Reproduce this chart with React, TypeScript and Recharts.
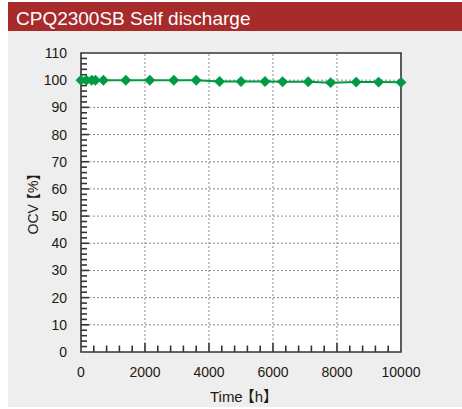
import React from 'react';
import { ComposedChart, Line, Scatter, XAxis, YAxis, ReferenceLine, ReferenceArea } from 'recharts';

const TITLE = 'CPQ2300SB Self discharge';
const X_LABEL_MAIN = 'Time';
const X_LABEL_UNIT = '【h】';
const Y_LABEL_MAIN = 'OCV';
const Y_LABEL_UNIT = '【%】';

const hours = [0, 168, 336, 450, 700, 1400, 2150, 2900, 3600, 4330, 5000, 5750, 6300, 7100, 7800, 8600, 9300, 10000];
const ocv = [100, 100, 100, 100, 100, 100, 100, 100, 100, 99.5, 99.5, 99.5, 99.4, 99.4, 99.1, 99.3, 99.3, 99.2];

const xMajorTicks = [0, 2000, 4000, 6000, 8000, 10000];
const yMajorTicks = [0, 10, 20, 30, 40, 50, 60, 70, 80, 90, 100, 110];
const X_MINOR_STEP = 400;
const Y_MINOR_STEP = 2;

const X_MAX = 10000;
const Y_MAX = 110;

const xTicks: number[] = [];
for (let v = X_MINOR_STEP; v < X_MAX; v += X_MINOR_STEP) xTicks.push(v);
const yTicks: number[] = [];
for (let v = Y_MINOR_STEP; v < Y_MAX; v += Y_MINOR_STEP) yTicks.push(v);

// x tick mark lengths expressed in y data units
const X_TICK_MAJOR = 3.3;
const X_TICK_MINOR = 2.4;

const data = hours.map((h, i) => ({ h, ocv: ocv[i] }));
const yTickData = yTicks.map((v) => ({ h: 0, tick: v, major: v % 10 === 0 }));

const FONT = '"Liberation Sans", Arial, "Noto Sans CJK JP", sans-serif';
const TEXT = '#231815';
const AXIS = '#3a3232';
const GREEN = '#009a44';

function XTick(props: any) {
  const x = Number(props.x);
  const y = Number(props.y);
  const v = Number(props.payload?.value);
  return (
    <text x={x} y={y + 25} textAnchor="middle" fontSize={14} fill={TEXT} fontFamily={FONT} stroke="none">
      {v}
    </text>
  );
}

function YTick(props: any) {
  const x = Number(props.x);
  const y = Number(props.y);
  const v = Number(props.payload?.value);
  return (
    <text x={x - 14} y={y + 5} textAnchor="end" fontSize={14} fill={TEXT} fontFamily={FONT} stroke="none">
      {v}
    </text>
  );
}

const YTickMark = (p: any) => {
  const cx = Number(p.cx);
  const cy = Number(p.cy);
  if (!isFinite(cx) || !isFinite(cy)) return <g />;
  const len = p.payload && p.payload.major ? 8 : 6;
  return <path d={`M${cx},${cy}H${cx + len}`} stroke={AXIS} strokeWidth={1.6} fill="none" />;
};

const Diamond = (props: any) => {
  const { cx, cy } = props;
  if (cx == null || cy == null) return null;
  const r = 5.2;
  return (
    <polygon
      points={`${cx},${cy - r} ${cx + r},${cy} ${cx},${cy + r} ${cx - r},${cy}`}
      fill={GREEN}
      stroke={GREEN}
      strokeWidth={0.5}
    />
  );
};

const YLabel = (props: any) => {
  const vb = props.viewBox || {};
  const cx = 25;
  const cy = vb.y + vb.height / 2 - 2;
  return (
    <text
      x={cx}
      y={cy}
      transform={`rotate(-90, ${cx}, ${cy})`}
      textAnchor="middle"
      dominantBaseline="central"
      fontSize={14}
      fill={TEXT}
      fontFamily={FONT}
    >
      <tspan>{Y_LABEL_MAIN}</tspan>
      <tspan dx={-3}>{Y_LABEL_UNIT}</tspan>
    </text>
  );
};

const XLabel = (props: any) => {
  const vb = props.viewBox || {};
  const cx = vb.x + vb.width / 2 + 3;
  return (
    <text x={cx} y={vb.y + 50} textAnchor="middle" fontSize={15} fill={TEXT} fontFamily={FONT}>
      <tspan>{X_LABEL_MAIN}</tspan>
      <tspan dx={-3}>{X_LABEL_UNIT}</tspan>
    </text>
  );
};

export default function App() {
  return (
    <div
      style={{
        position: 'absolute',
        left: 8,
        top: 2,
        width: 454,
        height: 405,
        background: '#eeeeee',
      }}
    >
      <div
        style={{
          height: 29,
          background: '#a72b2b',
          color: '#ffffff',
          fontFamily: FONT,
          fontSize: 19,
          lineHeight: '29px',
          paddingLeft: 8,
          boxSizing: 'border-box',
          overflow: 'hidden',
        }}
      >
        <span style={{ position: 'relative', top: 2 }}>{TITLE}</span>
      </div>
      <div style={{ position: 'relative', width: 454, height: 376 }}>
        <div
          style={{
            position: 'absolute',
            left: 73,
            top: 22,
            width: 320,
            height: 299,
            background: '#ffffff',
          }}
        />
        <div style={{ position: 'absolute', left: 0, top: 0 }}>
          <ComposedChart width={454} height={376} data={data} margin={{ top: 22, right: 61, bottom: 0, left: 0 }}>
            {yMajorTicks.slice(1, -1).map((v) => (
              <ReferenceLine key={'gy' + v} y={v} stroke="#8a8a8a" strokeDasharray="2 2" strokeWidth={1} />
            ))}
            {xMajorTicks.slice(1, -1).map((v) => (
              <ReferenceLine key={'gx' + v} x={v} stroke="#8a8a8a" strokeDasharray="2 2" strokeWidth={1} />
            ))}
            {xTicks.map((v) => (
              <ReferenceLine
                key={'tx' + v}
                segment={[
                  { x: v, y: 0 },
                  { x: v, y: v % 2000 === 0 ? X_TICK_MAJOR : X_TICK_MINOR },
                ]}
                stroke={AXIS}
                strokeWidth={1.6}
              />
            ))}
            <ReferenceArea x1={0} x2={X_MAX} y1={0} y2={Y_MAX} fill="none" stroke={AXIS} strokeWidth={1.6} />
            <XAxis
              type="number"
              dataKey="h"
              domain={[0, X_MAX]}
              ticks={xMajorTicks}
              interval={0}
              tick={XTick}
              tickLine={false}
              axisLine={false}
              tickSize={0}
              tickMargin={0}
              height={55}
              label={<XLabel />}
            />
            <YAxis
              type="number"
              domain={[0, Y_MAX]}
              ticks={yMajorTicks}
              interval={0}
              tick={YTick}
              tickLine={false}
              axisLine={false}
              tickSize={0}
              tickMargin={0}
              width={73}
              label={<YLabel />}
            />
            <Scatter
              data={yTickData}
              dataKey="tick"
              shape={YTickMark}
              legendType="none"
              isAnimationActive={false}
            />
            <Line
              type="linear"
              dataKey="ocv"
              stroke={GREEN}
              strokeWidth={2}
              dot={<Diamond />}
              activeDot={false}
              isAnimationActive={false}
            />
          </ComposedChart>
        </div>
      </div>
    </div>
  );
}
